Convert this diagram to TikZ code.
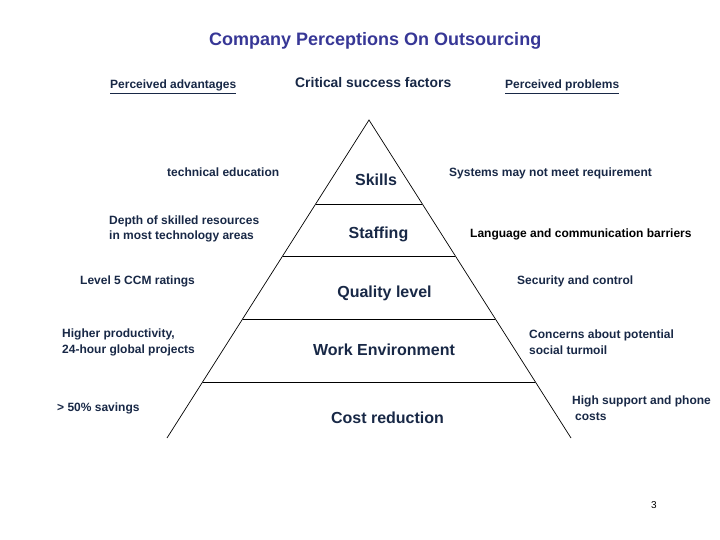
\documentclass[tikz,border=0pt]{standalone}
\usepackage{fontspec}
\setmainfont{Liberation Sans}
\usetikzlibrary{calc}
\definecolor{navy}{RGB}{24,40,70}
\definecolor{titleblue}{RGB}{55,55,150}
\tikzset{
  smalltxt/.style={font=\bfseries\fontsize{12}{15.5}\selectfont, text=navy, inner sep=0pt, anchor=base west, align=left},
  headtxt/.style={font=\bfseries\fontsize{12}{14}\selectfont, text=navy, inner sep=0pt, anchor=base west},
  levtxt/.style={font=\bfseries\fontsize{16}{18}\selectfont, text=navy, inner sep=0pt, anchor=base},
  pyr/.style={draw=black, line width=0.7pt}
}
\begin{document}
\begin{tikzpicture}[x=1pt,y=-1pt]
\useasboundingbox (0,0) rectangle (720,540);
% title and headers
\node[font=\bfseries\fontsize{18}{20}\selectfont, text=titleblue, inner sep=0pt, anchor=base west] (title) at (209,46) {Company Perceptions On Outsourcing};
\node[headtxt] (adv) at (110,89) {\underline{Perceived advantages}};
\node[font=\bfseries\fontsize{13.9}{16}\selectfont, text=navy, inner sep=0pt, anchor=base west] (csf) at (295,88) {Critical success factors};
\node[headtxt] (prob) at (505,89) {\underline{Perceived problems}};
% pyramid
\coordinate (apex) at (369,120);
\coordinate (bl) at (167,438);
\coordinate (br) at (571,438);
\draw[pyr] (bl) -- (apex) -- (br);
\foreach \t/\n in {0.264/a,0.428/b,0.626/c,0.824/d}{
  \coordinate (l\n) at ($(apex)!\t!(bl)$);
  \coordinate (r\n) at ($(apex)!\t!(br)$);
  \draw[pyr] (l\n) -- (r\n);
}
% pyramid levels
\node[levtxt] (skills) at (376,186) {Skills};
\node[levtxt] (staff) at (378.5,239) {Staffing};
\node[levtxt] (qual) at (384.5,297) {Quality level};
\node[levtxt] (work) at (384,355) {Work Environment};
\node[levtxt] (cost) at (387.5,423) {Cost reduction};
% advantages
\node[smalltxt] (a1) at (167,177) {technical education};
\node[smalltxt] (a2) at (109,240) {Depth of skilled resources\\in most technology areas};
\node[smalltxt] (a3) at (80,284) {Level 5 CCM ratings};
\node[smalltxt] (a4) at (62,353) {Higher productivity,\\24-hour global projects};
\node[smalltxt] (a5) at (57,411) {> 50\% savings};
% problems
\node[smalltxt] (p1) at (449,177) {Systems may not meet requirement};
\node[smalltxt, text=black] (p2) at (470,237) {Language and communication barriers};
\node[smalltxt] (p3) at (517,284) {Security and control};
\node[smalltxt] (p4) at (529,354) {Concerns about potential\\social turmoil};
\node[smalltxt] (p5) at (572,420) {High support and phone\\\hspace*{3pt}costs};
% page number
\node[font=\fontsize{10}{12}\selectfont, inner sep=0pt, anchor=base west] (pg) at (651,508) {3};
\end{tikzpicture}
\end{document}
